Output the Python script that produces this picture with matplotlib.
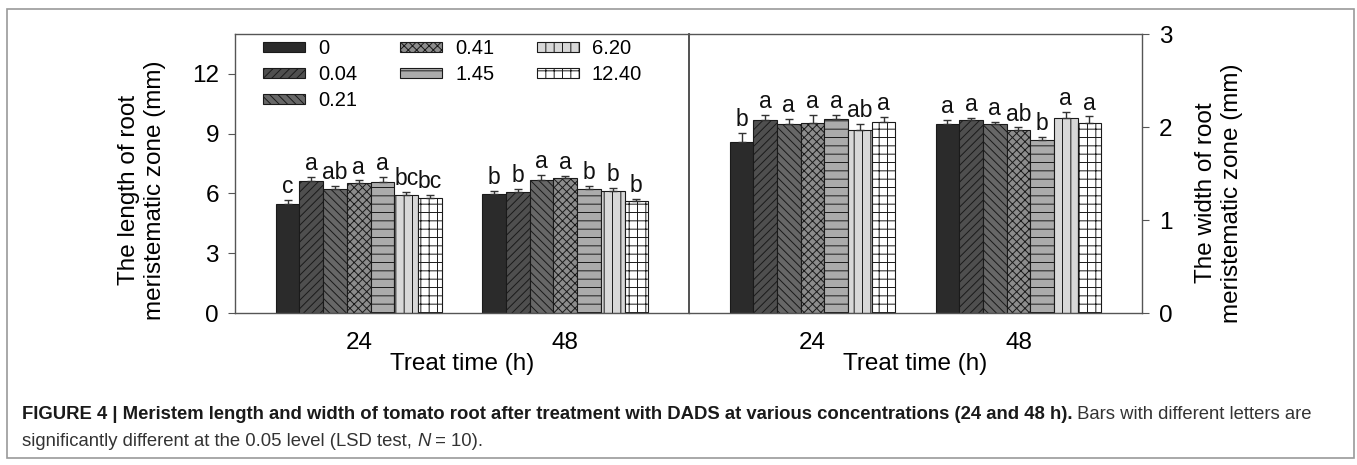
import matplotlib
matplotlib.use("Agg")
import matplotlib.pyplot as plt
import numpy as np
from matplotlib import font_manager
from matplotlib.patches import Rectangle

# ---------------- data ----------------
groups = ["24", "48"]
concentrations = ["0", "0.04", "0.21", "0.41", "1.45", "6.20", "12.40"]

length_24 = [5.47, 6.62, 6.24, 6.50, 6.58, 5.93, 5.77]
length_48 = [5.98, 6.08, 6.68, 6.76, 6.20, 6.13, 5.62]
length_err_24 = [0.18, 0.20, 0.13, 0.15, 0.23, 0.12, 0.16]
length_err_48 = [0.12, 0.16, 0.23, 0.10, 0.18, 0.13, 0.12]
length_letters_24 = ["c", "a", "ab", "a", "a", "bc", "bc"]
length_letters_48 = ["b", "b", "a", "a", "b", "b", "b"]

width_24 = [1.835, 2.07, 2.03, 2.045, 2.09, 1.97, 2.05]
width_48 = [2.03, 2.075, 2.03, 1.97, 1.857, 2.10, 2.045]
width_err_24 = [0.10, 0.057, 0.057, 0.08, 0.043, 0.06, 0.054]
width_err_48 = [0.05, 0.02, 0.025, 0.025, 0.04, 0.057, 0.068]
width_letters_24 = ["b", "a", "a", "a", "a", "ab", "a"]
width_letters_48 = ["a", "a", "a", "ab", "b", "a", "a"]

left_yticks = [0, 3, 6, 9, 12]
right_yticks = [0, 1, 2, 3]

# ---------------- style ----------------
names = {f.name for f in font_manager.fontManager.ttflist}
main_font = "Liberation Sans" if "Liberation Sans" in names else "DejaVu Sans"
cap_font = "Liberation Sans Narrow" if "Liberation Sans Narrow" in names else main_font
plt.rcParams["font.family"] = [main_font, "DejaVu Sans"]
plt.rcParams["hatch.linewidth"] = 0.7

fills = ["#2b2b2b", "#4f4f4f", "#676767", "#8c8c8c", "#ababab", "#d8d8d8", "#ffffff"]
hatches = [None, "////", "\\\\\\\\", "xxxx", "--", "||", "++"]
spine_c = "#555555"
FS = 17.5

W, H = 1357, 465
fig = plt.figure(figsize=(W / 100, H / 100), dpi=100)

axL = fig.add_axes([235 / W, 1 - 313 / H, 454 / W, 279 / H])
axR = fig.add_axes([689 / W, 1 - 313 / H, 453 / W, 279 / H])
axR.patch.set_visible(False)

bw = 0.115
gx = np.arange(len(groups))


def draw(ax, v24, v48, e24, e48, l24, l48):
    conts = []
    for i in range(len(concentrations)):
        x = gx + (i - 3) * bw
        vals = np.array([v24[i], v48[i]])
        errs = np.array([e24[i], e48[i]])
        c = ax.bar(x, vals, bw, color=fills[i], edgecolor="#1a1a1a",
                   linewidth=0.8, hatch=hatches[i], label=concentrations[i], zorder=2)
        conts.append(c)
        ax.errorbar(x, vals, yerr=[np.zeros_like(errs), errs], fmt="none",
                    ecolor="#333333", elinewidth=1.0, capsize=3, capthick=1.0, zorder=3)
        for xx, vv, ee, lab in zip(x, vals, errs, [l24[i], l48[i]]):
            ax.annotate(lab, (xx, vv + ee), xytext=(0, 5), textcoords="offset points",
                        ha="center", va="baseline", fontsize=16.5, color="#111111")
    ax.set_xlim(-0.6, 1.6)
    ax.set_xticks(gx)
    ax.set_xticklabels(groups, fontsize=FS)
    ax.tick_params(axis="x", length=0, pad=14)
    for s in ax.spines.values():
        s.set_color(spine_c)
        s.set_linewidth(1.0)
    ax.set_xlabel("Treat time (h)", fontsize=FS, labelpad=-1)
    return conts


conts = draw(axL, length_24, length_48, length_err_24, length_err_48,
             length_letters_24, length_letters_48)
draw(axR, width_24, width_48, width_err_24, width_err_48,
     width_letters_24, width_letters_48)

axL.set_ylim(0, 14)
axL.set_yticks(left_yticks)
axL.tick_params(axis="y", direction="out", length=5, pad=6.5, labelsize=FS, color=spine_c)
axL.spines["right"].set_color("#333333")
axL.spines["right"].set_linewidth(1.2)

axR.set_ylim(0, 3)
axR.set_yticks(right_yticks)
axR.yaxis.tick_right()
axR.tick_params(axis="y", direction="out", length=5, pad=7, labelsize=FS, color=spine_c)
axR.spines["left"].set_visible(False)

axL.set_ylabel("The length of root\nmeristematic zone (mm)", fontsize=FS)
axL.yaxis.label.set(ha="center", va="center")
axL.yaxis.set_label_coords((142 - 235) / 454, (313 - 190) / 279)

axR.yaxis.set_label_position("right")
axR.set_ylabel("The width of root\nmeristematic zone (mm)", fontsize=FS)
axR.yaxis.label.set(ha="center", va="center", rotation=90)
axR.yaxis.set_label_coords((1219 - 689) / 453, (313 - 193) / 279)

axL.legend(handles=conts, ncol=3, loc="upper left",
           bbox_to_anchor=((263 - 235) / 454, (313 - 39) / 279),
           frameon=False, fontsize=14.5, borderpad=0, borderaxespad=0,
           handlelength=2.1, handleheight=0.4, handletextpad=0.65,
           labelspacing=0.35, columnspacing=2.1)

# ---------------- outer frame ----------------
fig.patches.append(Rectangle((7 / W, 1 - 458 / H), (1354 - 7) / W, (458 - 9) / H,
                             transform=fig.transFigure, fill=False,
                             edgecolor="#9a9a9a", linewidth=1.2))

# ---------------- caption ----------------
renderer = fig.canvas.get_renderer()
bold_txt = "FIGURE 4 | Meristem length and width of tomato root after treatment with DADS at various concentrations (24 and 48 h)."
norm_txt = " Bars with different letters are"
line2a = "significantly different at the 0.05 level (LSD test, "
line2b = "N"
line2c = " = 10)."

x0 = 22
y1 = H - 419
y2 = H - 446
fs = 11.0
t1 = fig.text(x0 / W, y1 / H, bold_txt, fontsize=fs, fontweight="bold",
              family=[cap_font, main_font], color="#1a1a1a", va="baseline")
t2 = fig.text(0, y1 / H, norm_txt, fontsize=fs, family=[cap_font, main_font],
              color="#333333", va="baseline")
w_tot = t1.get_window_extent(renderer).width + t2.get_window_extent(renderer).width
fs = fs * 1293 / w_tot
t1.set_fontsize(fs)
t2.set_fontsize(fs)
bb = t1.get_window_extent(renderer)
t2.set_x(bb.x1 / W)

s1 = fig.text(x0 / W, y2 / H, line2a, fontsize=fs, family=[cap_font, main_font],
              color="#333333", va="baseline")
bb = s1.get_window_extent(renderer)
s2 = fig.text(bb.x1 / W, y2 / H, line2b, fontsize=fs, family=[cap_font, main_font],
              style="italic", color="#333333", va="baseline")
bb = s2.get_window_extent(renderer)
s3 = fig.text(bb.x1 / W, y2 / H, line2c, fontsize=fs, family=[cap_font, main_font],
              color="#333333", va="baseline")

fig.savefig("out.png", dpi=100)
